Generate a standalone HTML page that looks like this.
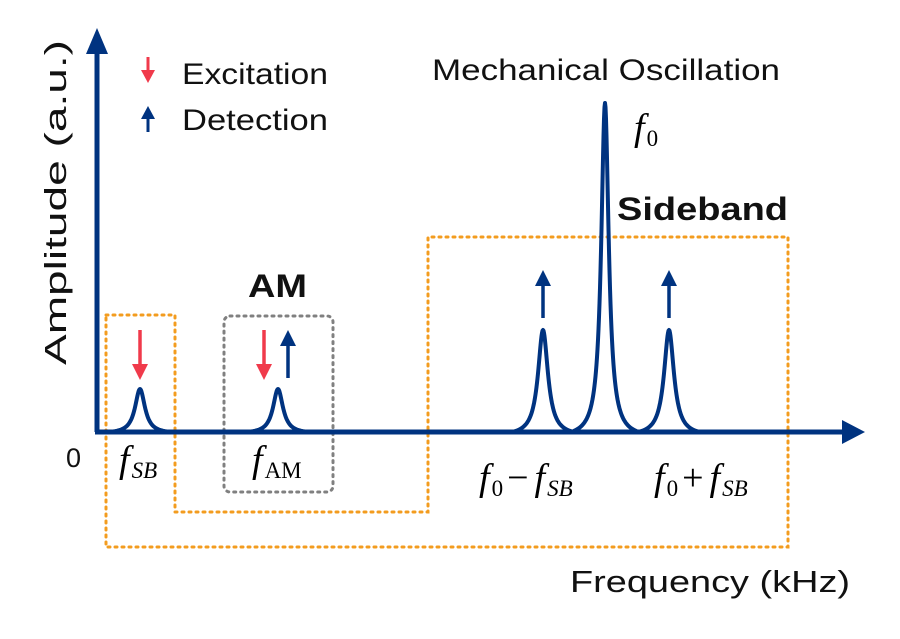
<!DOCTYPE html>
<html><head><meta charset="utf-8"><style>
html,body{margin:0;padding:0;background:#fff;}
svg{display:block;}
.s{font-family:"Liberation Sans","DejaVu Sans",sans-serif;}
.m{font-family:"Liberation Serif","DejaVu Serif",serif;font-style:italic;}
</style></head><body>
<svg width="900" height="639" viewBox="0 0 900 639" xmlns="http://www.w3.org/2000/svg">
<polygon points="106,315 175,315 175,512 428,512 428,237 788,237 788,547 106,547" fill="none" stroke="#F39C1F" stroke-width="3" stroke-dasharray="2,5" stroke-linecap="round"/>
<rect x="224" y="316" width="109" height="176" rx="6" fill="none" stroke="#808080" stroke-width="3" stroke-dasharray="2,5" stroke-linecap="round"/>
<path id="pk" fill="none" stroke="#003380" stroke-width="4" stroke-linejoin="round"/>
<line x1="97" y1="432" x2="97" y2="50" stroke="#003380" stroke-width="5"/>
<polygon points="97,28 86,54 108,54" fill="#003380"/>
<line x1="95" y1="432" x2="845" y2="432" stroke="#003380" stroke-width="5"/>
<polygon points="865,432 842,420 842,444" fill="#003380"/>
<g fill="#F03A4B" stroke="#F03A4B">
<line x1="140" y1="330" x2="140" y2="366" stroke-width="3.5"/><polygon points="140,380 132,364 148,364" stroke="none"/>
<line x1="264" y1="330" x2="264" y2="366" stroke-width="3.5"/><polygon points="264,380 256,364 272,364" stroke="none"/>
<line x1="148" y1="57" x2="148" y2="72" stroke-width="3"/><polygon points="148,83 141,70 155,70" stroke="none"/>
</g>
<g fill="#003380" stroke="#003380">
<line x1="288" y1="378" x2="288" y2="344" stroke-width="3.5"/><polygon points="288,330 280,346 296,346" stroke="none"/>
<line x1="543" y1="318" x2="543" y2="284" stroke-width="3.5"/><polygon points="543,270 535,286 551,286" stroke="none"/>
<line x1="669" y1="318" x2="669" y2="284" stroke-width="3.5"/><polygon points="669,270 661,286 677,286" stroke="none"/>
<line x1="148" y1="132" x2="148" y2="117" stroke-width="3"/><polygon points="148,106 141,119 155,119" stroke="none"/>
</g>
<text class="s" x="182" y="84" font-size="30" textLength="146" lengthAdjust="spacingAndGlyphs" fill="#111">Excitation</text>
<text class="s" x="182" y="130" font-size="30" textLength="146" lengthAdjust="spacingAndGlyphs" fill="#111">Detection</text>
<text class="s" x="432" y="80" font-size="30" textLength="348" lengthAdjust="spacingAndGlyphs" fill="#111">Mechanical Oscillation</text>
<text class="s" x="617" y="220" font-size="32" font-weight="bold" textLength="171" lengthAdjust="spacingAndGlyphs" fill="#111">Sideband</text>
<text class="s" x="248" y="297" font-size="32" font-weight="bold" textLength="59" lengthAdjust="spacingAndGlyphs" fill="#111">AM</text>
<text class="s" x="66" y="467" font-size="27" fill="#111">0</text>
<text class="s" x="570" y="592" font-size="31" textLength="280" lengthAdjust="spacingAndGlyphs" fill="#111">Frequency (kHz)</text>
<text class="s" font-size="31" fill="#111" textLength="325" lengthAdjust="spacingAndGlyphs" transform="translate(66,365) rotate(-90)">Amplitude (a.u.)</text>
<g class="m" fill="#000">
<text x="119" y="472" font-size="38">f<tspan font-size="23" dy="6" dx="2">SB</tspan></text>
<text x="252" y="472" font-size="38">f<tspan font-size="23" dy="6" dx="2" font-style="normal">AM</tspan></text>
<text x="634" y="140" font-size="38">f<tspan font-size="23" dy="6" dx="2" font-style="normal">0</tspan></text>
<text x="479" y="490" font-size="38">f<tspan font-size="23" dy="6" dx="2" font-style="normal">0</tspan><tspan dy="-6" dx="4" font-style="normal">−</tspan><tspan dx="6">f</tspan><tspan font-size="23" dy="6" dx="2">SB</tspan></text>
<text x="654" y="490" font-size="38">f<tspan font-size="23" dy="6" dx="2" font-style="normal">0</tspan><tspan dy="-6" dx="4" font-style="normal">+</tspan><tspan dx="6">f</tspan><tspan font-size="23" dy="6" dx="2">SB</tspan></text>
</g>
<script>
function lor(c,h,hw,g){var e=g*g/(g*g+hw*hw),d="";for(var i=-hw;i<=hw;i+=0.5){var v=(g*g/(g*g+i*i)-e)/(1-e);d+=(d?"L":"M")+(c+i).toFixed(1)+","+(432-h*v).toFixed(1);}return d;}
document.getElementById("pk").setAttribute("d",lor(140,43,31,6)+lor(278,43,31,6)+lor(543,102,31,6)+lor(605,329,34,4.5)+lor(669,102,31,6));
</script>
</svg>
</body></html>
